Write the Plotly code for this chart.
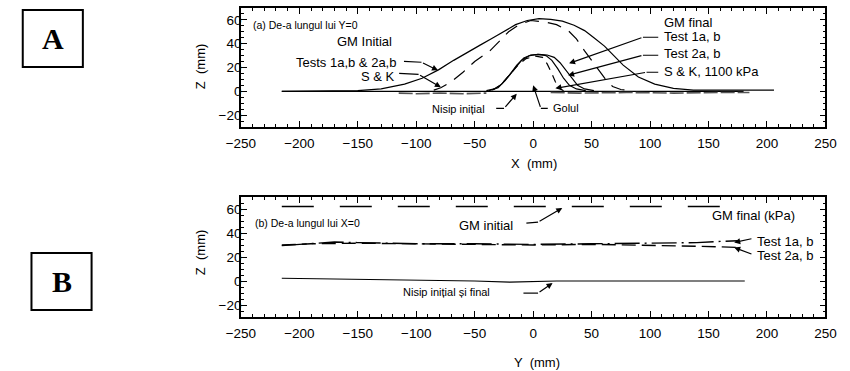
import plotly.graph_objects as go

# ---------------- data: panel (a) along Y=0 ----------------
a_sand_x = [-215, -150, -100, -50, 0, 50, 100, 150, 180]
a_sand_z = [0, 0, 0, 0, 0, 0, 0, 0, 0]

a_sandf_x = [-115, -100, -80, -60, -40, None, 15, 40, 80, 120, 160, 185]
a_sandf_z = [-1.5, -2, -1.5, -2, -1.5, None, -1, -1.5, -1, -1.5, -1, -1]

a_tests_x = [-215, -150, -130, -110, -95, -81, -68, -55, -45, -35, -25, -15, -5, 5, 15, 25, 35, 44, 52, 61, 69, 77,
             90, 104, 120, 137, 160, 206]
a_tests_z = [0, 0.5, 2, 6, 11, 18, 26, 33, 39, 44.5, 50, 56, 59.5, 61, 60.5, 59, 55.5, 51, 45, 38, 30, 22,
             12, 6, 2.5, 1, 1, 1]

a_sk_x = [-85, -79, -70, -60, -50, -37, -29, -21, -12, -2, 11, 20, 30, 37, 44, 50, 56, 62, 68, 75, 85]
a_sk_z = [1, 3, 8, 16, 25, 34, 42, 50, 56, 59.5, 58, 56, 51, 44, 34, 26, 18, 10, 4, 1.5, 0.5]

a_t1_x = [-40, -33, -27, -20, -14, -8, -2, 5, 12, 18, 23, 28, 33, 38, 44, 52]
a_t1_z = [0.5, 2, 6, 14, 22, 28, 30.5, 31, 30.5, 28.5, 24, 18, 11, 5, 2, 0.5]

a_t2_x = [-38, -30, -24, -17, -10, -3, 4, 11, 16, 21, 26, 31, 37, 45]
a_t2_z = [0.5, 3, 9, 18, 26, 30, 31, 30, 26, 19, 11, 5, 2, 0.5]

a_sk2_x = [-35, -28, -20, -13, -6, 2, 8, 12, 16, 19, 22, 26]
a_sk2_z = [1, 5, 14, 22, 27.5, 29.5, 28.5, 23, 15, 8, 3, 0.5]

# ---------------- data: panel (b) along X=0 ----------------
b_gm_x = [-215, -100, 0, 100, 180]
b_gm_z = [62, 62, 62, 62, 62]

b_t1_x = [-215, -190, -170, -150, -100, -50, 0, 50, 100, 140, 160, 175]
b_t1_z = [29.5, 31, 32.5, 32, 31, 31, 30.5, 31, 31.5, 32, 33, 33.5]

b_t2_x = [-215, -190, -150, -100, -50, 0, 50, 100, 140, 160, 175]
b_t2_z = [30, 31, 31.5, 31, 30.5, 30, 30.5, 30, 29, 28.5, 28]

b_sand_x = [-215, -150, -100, -50, -20, 0, 20, 50, 100, 150, 181]
b_sand_z = [2.3, 1.5, 1, 0, -1, -0.5, 0, 0, 0, 0, 0]

x_ticks = [-250, -200, -150, -100, -50, 0, 50, 100, 150, 200, 250]
z_ticks = [-20, 0, 20, 40, 60]

FONT = "Arial, Liberation Sans, sans-serif"
W, H = 850, 371

fig = go.Figure()

def line(x, z, xa, ya, dash="solid", width=1.2, color="black"):
    fig.add_trace(go.Scatter(x=x, y=z, mode="lines", xaxis=xa, yaxis=ya,
                             line=dict(color=color, width=width, dash=dash),
                             showlegend=False, hoverinfo="skip", connectgaps=False))

# panel a
line(a_sand_x, a_sand_z, "x", "y")
line(a_sandf_x, a_sandf_z, "x", "y", dash="14px,3px", width=1.6, color="#555555")
line(a_tests_x, a_tests_z, "x", "y")
line(a_sk_x, a_sk_z, "x", "y", dash="14px,9px")
line(a_t1_x, a_t1_z, "x", "y")
line(a_t2_x, a_t2_z, "x", "y")
line(a_sk2_x, a_sk2_z, "x", "y", dash="8px,6px")

# panel b
line(b_gm_x, b_gm_z, "x2", "y2", dash="32px,26px", width=1.5)
line(b_t1_x, b_t1_z, "x2", "y2", dash="25px,5px,2px,5px", width=1.4)
line(b_t2_x, b_t2_z, "x2", "y2", dash="14px,6px", width=1.4)
line(b_sand_x, b_sand_z, "x2", "y2")

axis_common = dict(showline=True, linecolor="black", linewidth=1.5, mirror="ticks",
                   ticks="inside", ticklen=6, tickwidth=1, tickcolor="black",
                   showgrid=False, zeroline=False,
                   tickfont=dict(family=FONT, size=13.5, color="black"))
xd = [233 / W, 836 / W]
xmin = dict(dtick=10, ticklen=3, ticks="inside", tickcolor="black")
ymin = dict(dtick=5, ticklen=3, ticks="inside", tickcolor="black")
fig.update_layout(
    width=W, height=H, margin=dict(l=0, r=0, t=0, b=0),
    paper_bgcolor="white", plot_bgcolor="white",
    xaxis=dict(domain=xd, range=[-250, 250], anchor="y", tickvals=x_ticks, minor=xmin,
               ticklabelstandoff=3, **axis_common),
    yaxis=dict(domain=[1 - 127 / H, 1 - 8 / H], range=[-30, 70], anchor="x", tickvals=z_ticks,
               minor=ymin, ticklabelstandoff=-5, **axis_common),
    xaxis2=dict(domain=xd, range=[-250, 250], anchor="y2", tickvals=x_ticks, minor=xmin,
                ticklabelstandoff=3, **axis_common),
    yaxis2=dict(domain=[1 - 317 / H, 1 - 197 / H], range=[-30, 70], anchor="x2", tickvals=z_ticks,
                minor=ymin, ticklabelstandoff=-5, **axis_common),
)

def ptext(text, px, py, size=13, xanchor="center", textangle=0, family=FONT):
    fig.add_annotation(text=text, x=px / W, y=1 - py / H, xref="paper", yref="paper",
                       xanchor=xanchor, yanchor="middle", showarrow=False, textangle=textangle,
                       font=dict(family=family, size=size, color="black"))

# axis titles
ptext("X  (mm)", 535, 164)
ptext("Y  (mm)", 538, 362)
ptext("Z  (mm)", 191, 67, textangle=-90)
ptext("Z  (mm)", 191, 253, textangle=-90)

# panel labels A/B
for lab, x0, y0, x1, y1 in [("A", 8, 10, 70, 67), ("B", 17, 253, 79, 310)]:
    fig.add_shape(type="rect", xref="paper", yref="paper", x0=x0 / W, x1=x1 / W,
                  y0=1 - y1 / H, y1=1 - y0 / H, line=dict(color="black", width=2))
    fig.add_annotation(text="<b>%s</b>" % lab, x=(x0 + x1) / 2 / W, y=1 - (y0 + y1) / 2 / H,
                       xref="paper", yref="paper", showarrow=False, xanchor="center", yanchor="middle",
                       font=dict(family="Liberation Serif, Times New Roman, serif", size=30, color="black"))

# texts panel a
ptext("(a) De-a lungul lui Y=0", 243, 25, size=10.5, xanchor="left")
ptext("GM Initial", 361, 42)
ptext("Tests 1a,b & 2a,b", 395, 63, xanchor="right")
ptext("S & K", 394, 77, xanchor="right")
ptext("Nisip inițial", 457, 109, size=11)
ptext("Golul", 553, 108, size=11, xanchor="left")
ptext("GM final", 667, 23, xanchor="left")
ptext("Test 1a, b", 667, 37, xanchor="left")
ptext("Test 2a, b", 667, 54, xanchor="left")
ptext("S & K, 1100 kPa", 667, 71, xanchor="left")

# texts panel b
ptext("(b) De-a lungul lui X=0", 245, 223, size=10.5, xanchor="left")
ptext("GM initial", 486, 225)
ptext("Nisip inițial și final", 445, 292, size=11)
ptext("GM final (kPa)", 717, 215, xanchor="left")
ptext("Test 1a, b", 763, 241, xanchor="left")
ptext("Test 2a, b", 763, 255, xanchor="left")

def leader(pts, xa, ya):
    for (x0, y0), (x1, y1) in zip(pts[:-2], pts[1:-1]):
        fig.add_shape(type="line", xref=xa, yref=ya, x0=x0, y0=y0, x1=x1, y1=y1,
                      line=dict(color="black", width=1.2))
    (ax, ay), (x, y) = pts[-2], pts[-1]
    fig.add_annotation(x=x, y=y, ax=ax, ay=ay, xref=xa, yref=ya, axref=xa, ayref=ya,
                       text="", showarrow=True, arrowhead=2, arrowsize=1, arrowwidth=1.2,
                       arrowcolor="black")

leader([(-110.5, 25.2), (-95.5, 24.4), (-81.4, 17.6)], "x", "y")
leader([(-114.6, 15.1), (-98, 14.3), (-78.9, 3.4)], "x", "y")
leader([(-31.6, -14.3), (-24.9, -14.3), (-14, -2)], "x", "y")
leader([(12.5, -14.3), (6.6, -14.3), (0, 5)], "x", "y")
leader([(107, 45.4), (93.9, 45.4), (30.7, 23.5)], "x", "y")
leader([(107, 30.3), (93.9, 30.3), (29.9, 13.4)], "x", "y")
leader([(107, 16), (97, 16), (19, 2.5)], "x", "y")

leader([(-5.8, 48.2), (4.2, 49), (24.9, 60.9)], "x2", "y2")
leader([(-8.3, -10.1), (4.2, -10.1), (16.6, -1.7)], "x2", "y2")
leader([(188, 35.5), (172, 32.1)], "x2", "y2")
leader([(188, 22), (172, 27.9)], "x2", "y2")

fig.write_html("out.html")
